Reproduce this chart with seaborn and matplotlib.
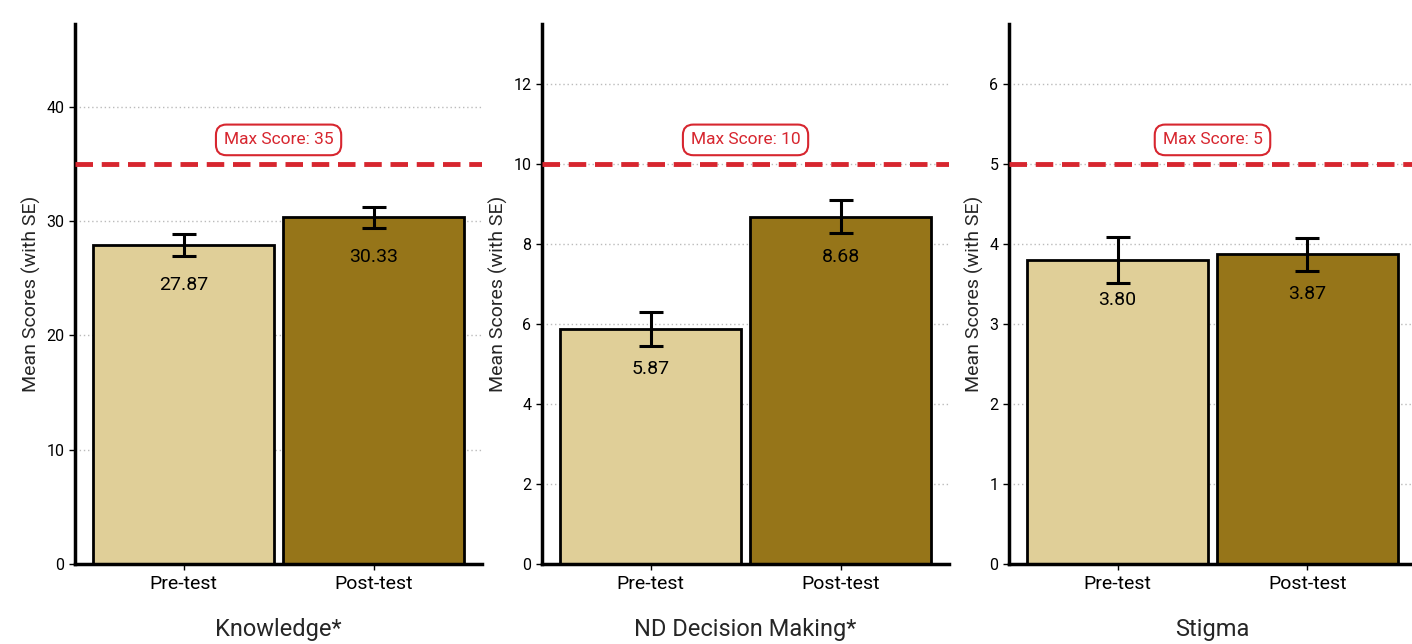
import pandas as pd
import numpy as np
import matplotlib
matplotlib.use("Agg")
import matplotlib.pyplot as plt
import seaborn as sns

# Values
measures = ['Knowledge*', 'ND Decision Making*', 'Stigma']
phases = ['Pre-test', 'Post-test']
pre_means = [27.87, 5.87, 3.80]
post_means = [30.33, 8.68, 3.87]
pre_se = [0.96, 0.43, 0.29]
post_se = [0.92, 0.41, 0.21]
max_scores = [35, 10, 5]
y_ticks = [[0, 10, 20, 30, 40], [0, 2, 4, 6, 8, 10, 12], [0, 1, 2, 3, 4, 5, 6]]

phase_colors = {'Pre-test': '#E0CF98', 'Post-test': '#967519'}
red = '#D7262F'

sns.set_style("white")
plt.rcParams['font.family'] = ['Roboto', 'DejaVu Sans']

fig, axes = plt.subplots(1, 3, figsize=(14.12, 6.44), dpi=100)
fig.subplots_adjust(left=0.053, right=1.003, top=0.963, bottom=0.124, wspace=0.146)

for i, ax in enumerate(axes):
    df = pd.DataFrame({
        'Phase': phases,
        'Mean': [pre_means[i], post_means[i]],
        'SE': [pre_se[i], post_se[i]],
    })
    sns.barplot(data=df, x='Phase', y='Mean', hue='Phase', palette=phase_colors,
                saturation=1, width=0.95, edgecolor='black', linewidth=2,
                legend=False, ax=ax)
    ax.errorbar(x=np.arange(len(df)), y=df['Mean'], yerr=df['SE'], fmt='none',
                ecolor='black', elinewidth=2.2, capsize=8.5, capthick=2.2, zorder=5)

    mx = max_scores[i]
    ax.set_ylim(0, mx * 1.35)
    ax.set_xlim(-0.5725, 1.5725)
    ax.set_yticks(y_ticks[i])

    # value labels inside the bars
    for j, v in enumerate(df['Mean']):
        ax.text(j, v - 0.1 * mx, f"{v:.2f}", ha='center', va='center', fontsize=14, color='black')

    # max score line and label
    ax.axhline(mx, color=red, linestyle=(0, (3.6, 1.8)), linewidth=3.5, zorder=4)
    ax.text(0.5, mx * 1.06, f"Max Score: {mx}", transform=ax.get_yaxis_transform(),
            ha='center', va='center', fontsize=12.5, color=red,
            bbox=dict(boxstyle='round,pad=0.45,rounding_size=0.6', facecolor='white',
                      edgecolor=red, linewidth=1.5))

    ax.yaxis.grid(True, linestyle=(0, (1, 2)), color='#BBBBBB', linewidth=1)
    ax.set_axisbelow(True)
    sns.despine(ax=ax)
    for side in ['left', 'bottom']:
        ax.spines[side].set_linewidth(2.5)
        ax.spines[side].set_color('black')
    ax.tick_params(axis='y', labelsize=11.5, length=4, width=1, left=True, colors='black')
    ax.tick_params(axis='x', labelsize=14, length=4, width=1, bottom=True, colors='black')

    ax.set_xlabel(measures[i], fontsize=17, labelpad=18)
    ax.set_ylabel('Mean Scores (with SE)', fontsize=14)

fig.savefig('out.png', dpi=100)
